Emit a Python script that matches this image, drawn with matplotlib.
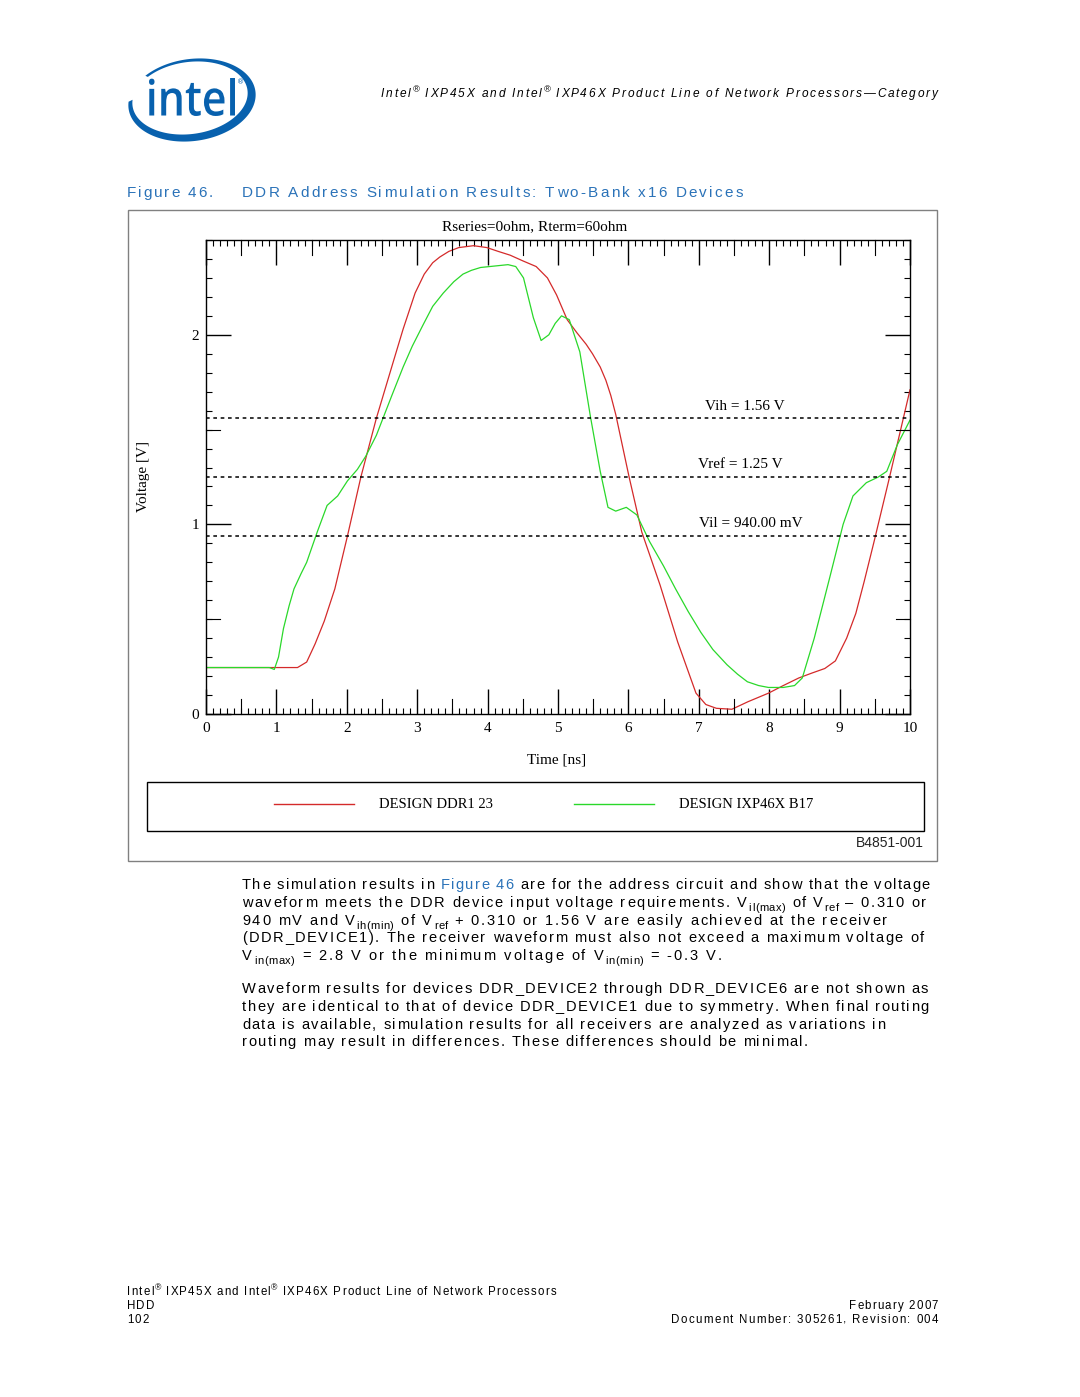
import numpy as np
import matplotlib
matplotlib.use("Agg")
import matplotlib.pyplot as plt
from matplotlib.patches import Rectangle, Polygon, PathPatch
from matplotlib.textpath import TextPath
from matplotlib.transforms import Affine2D, blended_transform_factory
from matplotlib.ticker import MultipleLocator
from matplotlib.font_manager import FontProperties, findfont, get_font

W, H = 1080, 1397
SANS = ["Liberation Sans", "DejaVu Sans"]
SERIF = ["Liberation Serif", "DejaVu Serif"]
BLUE = "#2a72b8"
LOGO = "#0861ae"

# waveforms (time in ns, volts)
t_ddr = [0, 0.9, 1.3, 1.43, 1.55, 1.68, 1.83, 2.01, 2.2, 2.42, 2.67, 2.8, 2.97, 3.1,
         3.22, 3.32, 3.45, 3.59, 3.8, 3.99, 4.15, 4.32, 4.5, 4.69, 4.85, 4.98, 5.13,
         5.27, 5.4, 5.49, 5.6, 5.68, 5.75, 5.82, 6.01, 6.19, 6.45, 6.70, 6.96, 7.1,
         7.25, 7.47, 7.7, 7.99, 8.2, 8.42, 8.6, 8.79, 8.94, 9.1, 9.23, 9.35, 9.49,
         9.71, 10]
v_ddr = [0.245, 0.245, 0.245, 0.274, 0.37, 0.49, 0.66, 0.94, 1.25, 1.56, 1.87, 2.03,
         2.22, 2.32, 2.38, 2.41, 2.44, 2.46, 2.47, 2.46, 2.44, 2.42, 2.39, 2.36, 2.30,
         2.21, 2.08, 2.01, 1.95, 1.90, 1.83, 1.76, 1.68, 1.58, 1.25, 0.96, 0.68, 0.38,
         0.11, 0.05, 0.03, 0.025, 0.065, 0.11, 0.15, 0.19, 0.215, 0.24, 0.28, 0.40,
         0.53, 0.70, 0.91, 1.25, 1.71]

t_ixp = [0, 0.9, 0.97, 1.03, 1.1, 1.18, 1.25, 1.35, 1.43, 1.58, 1.72, 1.87, 2.01, 2.15,
         2.27, 2.42, 2.64, 2.8, 2.93, 3.08, 3.22, 3.37, 3.52, 3.65, 3.77, 3.9, 4.03,
         4.29, 4.4, 4.51, 4.65, 4.76, 4.87, 4.96, 5.05, 5.16, 5.31, 5.46, 5.6, 5.71,
         5.82, 5.97, 6.12, 6.3, 6.5, 6.67, 6.85, 7.03, 7.2, 7.4, 7.55, 7.69, 7.85, 7.99,
         8.2, 8.36, 8.47, 8.64, 8.86, 9.05, 9.19, 9.38, 9.55, 9.67, 9.82, 10]
v_ixp = [0.245, 0.245, 0.235, 0.30, 0.45, 0.57, 0.66, 0.74, 0.80, 0.96, 1.10, 1.15,
         1.23, 1.29, 1.36, 1.47, 1.68, 1.83, 1.94, 2.05, 2.15, 2.22, 2.28, 2.32, 2.34,
         2.355, 2.36, 2.37, 2.36, 2.30, 2.09, 1.97, 2.00, 2.06, 2.10, 2.08, 1.91, 1.57,
         1.28, 1.09, 1.07, 1.09, 1.05, 0.91, 0.78, 0.66, 0.54, 0.43, 0.34, 0.26, 0.21,
         0.17, 0.15, 0.14, 0.14, 0.15, 0.19, 0.40, 0.72, 1.0, 1.15, 1.22, 1.25, 1.28,
         1.42, 1.55]

thresholds = [1.56, 1.25, 0.94]
threshold_labels = ["Vih = 1.56 V", "Vref = 1.25 V", "Vil = 940.00 mV"]
series_names = ["DESIGN DDR1 23", "DESIGN IXP46X B17"]
x_ticks = list(range(11))
y_ticks = [0, 1, 2]

fig = plt.figure(figsize=(W / 100, H / 100), dpi=100)
page = fig.add_axes([0, 0, 1, 1])
page.set_xlim(0, W)
page.set_ylim(H, 0)
page.axis("off")


def advances(s, fp):
    font = get_font(findfont(fp))
    font.set_size(fp.get_size_in_points(), 100)
    return [font.load_char(ord(c)).linearHoriAdvance / 65536 for c in s]


def tracked(x0, y, pieces, size, x1=None, track=0.0, style="normal",
            color="black", align="left"):
    # place text char by char so the letter spacing of the page can be matched
    glyphs = []
    for txt, kind in pieces:
        sz = size * 0.76 if kind in "sp" else size
        fp = FontProperties(family=SANS, size=sz, style=style)
        dy = {"s": 0.30 * size * 100 / 72, "p": -0.42 * size * 100 / 72}.get(kind, 0)
        col = BLUE if kind == "b" else color
        wt = 0.35 if kind in "sp" else 1.0
        for c, w in zip(txt, advances(txt, fp)):
            glyphs.append((c, w, fp, dy, col, wt))
    natural = sum(g[1] for g in glyphs)
    weights = sum(g[5] for g in glyphs[:-1])
    if x1 is not None and align == "left":
        track = (x1 - x0 - natural) / weights
    if align == "right":
        x0 = x1 - natural - track * weights
    x = x0
    for c, w, fp, dy, col, wt in glyphs:
        if c != " ":
            page.text(x, y + dy, c, fontproperties=fp, color=col,
                      ha="left", va="baseline")
        x += w + track * wt
    return track


# ---- logo
cx, cy, phi = 192, 100, np.radians(-8)
th = np.radians(np.linspace(228, 550, 300))


def ell(cx, cy, rx, ry, th):
    x, y = rx * np.cos(th), ry * np.sin(th)
    return np.column_stack([cx + x * np.cos(phi) - y * np.sin(phi),
                            cy + x * np.sin(phi) + y * np.cos(phi)])


outer = ell(cx, cy, 64, 41, th)
inner = ell(cx - 2, cy - 2, 58, 36, th)[::-1]
page.add_patch(Polygon(np.vstack([outer, inner]), closed=True, fc=LOGO, ec="none"))
tp = TextPath((0, 0), "intel", prop=FontProperties(family="Open Sans", weight="semibold"))
bb = tp.get_extents()
tr = Affine2D().translate(-bb.x0, -bb.y0).scale(86 / bb.width, -38 / bb.height).translate(149, 116)
page.add_patch(PathPatch(tr.transform_path(tp), fc=LOGO, ec="none"))
page.text(241, 82, "®", color=LOGO, fontsize=5, ha="center", va="center")

# ---- header and caption
tracked(381, 97, [("Intel", "n"), ("®", "p"), (" IXP45X and Intel", "n"), ("®", "p"),
                  (" IXP46X Product Line of Network Processors\u2014Category", "n")],
        8.6, x1=938, style="italic")
tracked(127, 197, [("Figure 46.", "n")], 11, x1=213, color=BLUE)
tracked(242, 197, [("DDR Address Simulation Results: Two-Bank x16 Devices", "n")], 11,
        x1=743, color=BLUE)

# ---- figure frame, titles and legend
page.add_patch(Rectangle((128, 210), 809, 651, fill=False, ec="#808080", lw=1))
page.text(535, 227, "Rseries=0ohm, Rterm=60ohm", family=SERIF, fontsize=11,
          ha="center", va="center")
page.text(144, 477, "Voltage [V]", family=SERIF, fontsize=11, rotation=90,
          ha="center", va="center")
page.text(557, 760, "Time [ns]", family=SERIF, fontsize=11, ha="center", va="center")
page.add_patch(Rectangle((147, 782), 777, 49, fill=False, ec="black", lw=1))
page.plot([274, 354], [804, 804], color="#d42a2a", lw=1)
page.plot([574, 654], [804, 804], color="#2ad82a", lw=1)
page.text(379, 804, series_names[0], family=SERIF, fontsize=10.5, va="center")
page.text(679, 804, series_names[1], family=SERIF, fontsize=10.5, va="center")
page.text(924, 843, "B4851-001", family=SANS, fontsize=10, ha="right", va="center",
          color="#222222")

# ---- chart
ax = fig.add_axes([206 / W, 1 - 714 / H, 704 / W, 474 / H])
ax.plot(t_ddr, v_ddr, color="#d42a2a", lw=0.9)
ax.plot(t_ixp, v_ixp, color="#2ad82a", lw=0.9)
lx = [7.66, 7.59, 7.74]
for v, lab, x in zip(thresholds, threshold_labels, lx):
    ax.axhline(v, color="black", lw=1.1, ls=(0, (2.4, 2.4)))
    ax.text(x, v + 0.03, lab, family=SERIF, fontsize=11, ha="center", va="bottom")
ax.set_xlim(0, 10)
ax.set_ylim(0, 2.5)
ax.set_xticks(x_ticks)
ax.set_yticks(y_ticks)
ax.xaxis.set_minor_locator(MultipleLocator(0.1))
ax.yaxis.set_minor_locator(MultipleLocator(0.1))
ax.tick_params(which="major", direction="in", length=18, width=1, top=True, right=True)
ax.tick_params(which="minor", direction="in", length=4.5, width=0.8, top=True, right=True)
ax.tick_params(axis="x", pad=6)
ax.tick_params(axis="y", pad=5)
for lab in ax.get_xticklabels() + ax.get_yticklabels():
    lab.set_family(SERIF)
    lab.set_fontsize(11)
for sp in ax.spines.values():
    sp.set_linewidth(1.0)
# half-unit ticks are drawn a bit longer than the minor ones
tx = blended_transform_factory(ax.transData, ax.transAxes)
ty = blended_transform_factory(ax.transAxes, ax.transData)
for k in range(10):
    ax.plot([k + 0.5, k + 0.5], [0, 15 / 474], color="black", lw=0.8, transform=tx, clip_on=False)
    ax.plot([k + 0.5, k + 0.5], [1, 1 - 15 / 474], color="black", lw=0.8, transform=tx, clip_on=False)
for v in [0.5, 1.5]:
    ax.plot([0, 14 / 704], [v, v], color="black", lw=0.8, transform=ty, clip_on=False)
    ax.plot([1, 1 - 14 / 704], [v, v], color="black", lw=0.8, transform=ty, clip_on=False)

# ---- body text
body = [
    (889, 930, [("The simulation results in ", "n"), ("Figure 46", "b"),
                (" are for the address circuit and show that the voltage", "n")]),
    (907, 926, [("waveform meets the DDR device input voltage requirements. V", "n"),
                ("il(max)", "s"), (" of V", "n"), ("ref", "s"), (" \u2013 0.310 or", "n")]),
    (925, 887, [("940 mV and V", "n"), ("ih(min)", "s"), (" of V", "n"), ("ref", "s"),
                (" + 0.310 or 1.56 V are easily achieved at the receiver", "n")]),
    (942, 924, [("(DDR_DEVICE1). The receiver waveform must also not exceed a maximum voltage of", "n")]),
    (960, 722, [("V", "n"), ("in(max)", "s"), (" = 2.8 V or the minimum voltage of V", "n"),
                ("in(min)", "s"), (" = -0.3 V.", "n")]),
    (993, 928, [("Waveform results for devices DDR_DEVICE2 through DDR_DEVICE6 are not shown as", "n")]),
    (1011, 929, [("they are identical to that of device DDR_DEVICE1 due to symmetry. When final routing", "n")]),
    (1029, 885, [("data is available, simulation results for all receivers are analyzed as variations in", "n")]),
    (1046, 808, [("routing may result in differences. These differences should be minimal.", "n")]),
]
for y, x1, pieces in body:
    tracked(242, y, pieces, 10.5, x1=x1)

# ---- footer
trk = tracked(127, 1295, [("Intel", "n"), ("®", "p"), (" IXP45X and Intel", "n"), ("®", "p"),
                          (" IXP46X Product Line of Network Processors", "n")], 8.3, x1=556)
tracked(127, 1309, [("HDD", "n")], 8.3, track=trk)
tracked(127, 1323, [("102", "n")], 8.3, track=trk)
tracked(0, 1309, [("February 2007", "n")], 8.3, x1=938, track=trk, align="right")
tracked(671, 1323, [("Document Number: 305261, Revision: 004", "n")], 8.3, x1=938)

fig.savefig("out.png", dpi=100, facecolor="white")
